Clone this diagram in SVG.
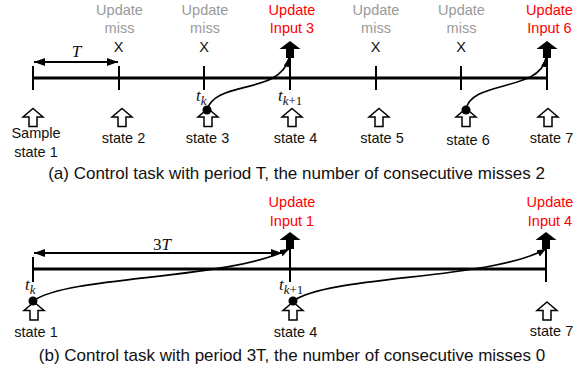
<svg xmlns="http://www.w3.org/2000/svg" width="587" height="372" viewBox="0 0 587 372">
  <style>
    .lbl { font-family: "Liberation Sans", Arial, sans-serif; font-size: 14.5px; fill: #111; text-anchor: middle; }
    .miss { fill: #9a9a9a; }
    .upd { fill: #ff0000; }
    .cap { font-family: "Liberation Sans", Arial, sans-serif; font-size: 17px; fill: #111; text-anchor: middle; }
    .math { font-family: "Liberation Serif", "Times New Roman", serif; font-style: italic; font-size: 17px; fill: #111; }
    .sub { font-size: 13px; }
    .up { font-style: normal; }
    .axis { stroke: #000; stroke-width: 3; fill: none; }
    .tick { stroke: #000; stroke-width: 2; fill: none; }
    .flow { stroke: #000; stroke-width: 1.6; fill: none; marker-end: url(#head); }
    .dim { stroke: #000; stroke-width: 2; fill: none; marker-start: url(#dimhead); marker-end: url(#dimhead); }
    .hollow { fill: #fff; stroke: #000; stroke-width: 1.5; stroke-linejoin: miter; }
    .solid { fill: #000; }
  </style>
  <defs>
    <!-- state sample arrow (outline) and control update arrow (filled), tip at origin -->
    <path id="sampleArrow" class="hollow" d="M0,0 L10,8.5 L4,8.5 L4,18 L-4,18 L-4,8.5 L-10,8.5 Z"/>
    <path id="updateArrow" class="solid" d="M0,0 L10.5,8 L4,8 L4,17 L-4,17 L-4,8 L-10.5,8 Z"/>
    <marker id="head" markerWidth="10" markerHeight="8" refX="9" refY="3.5" orient="auto" markerUnits="userSpaceOnUse">
      <path d="M0,0 L9,3.5 L0,7 Z" fill="#000"/>
    </marker>
    <marker id="dimhead" markerWidth="12" markerHeight="10" refX="11" refY="4" orient="auto-start-reverse" markerUnits="userSpaceOnUse">
      <path d="M0,0 L11,4 L0,8 Z" fill="#000"/>
    </marker>
  </defs>

  <!-- (a) period T timeline -->
  <g id="timeline-a">
    <line class="axis" x1="33" y1="78" x2="547" y2="78"/>
    <line class="tick" x1="33" y1="66" x2="33" y2="90"/>
    <line class="tick" x1="119" y1="66" x2="119" y2="90"/>
    <line class="tick" x1="204" y1="66" x2="204" y2="90"/>
    <line class="tick" x1="290" y1="57" x2="290" y2="90"/>
    <line class="tick" x1="376" y1="66" x2="376" y2="90"/>
    <line class="tick" x1="461" y1="66" x2="461" y2="90"/>
    <line class="tick" x1="547" y1="57" x2="547" y2="90"/>
    <line class="dim" x1="34" y1="62" x2="118" y2="62"/>
    <text class="math" x="76.5" y="57" text-anchor="middle">T</text>
  </g>

  <g id="miss-a2">
    <text class="lbl miss" x="119.5" y="15">Update</text>
    <text class="lbl miss" x="119.5" y="33">miss</text>
    <text class="lbl" x="118.5" y="52">X</text>
  </g>
  <g id="miss-a3">
    <text class="lbl miss" x="205" y="15">Update</text>
    <text class="lbl miss" x="205" y="33">miss</text>
    <text class="lbl" x="204" y="52">X</text>
  </g>
  <g id="update-a3">
    <text class="lbl upd" x="292" y="15">Update</text>
    <text class="lbl upd" x="292" y="33">Input 3</text>
    <use href="#updateArrow" x="290" y="41"/>
  </g>
  <g id="miss-a5">
    <text class="lbl miss" x="376" y="15">Update</text>
    <text class="lbl miss" x="376" y="33">miss</text>
    <text class="lbl" x="375.5" y="52">X</text>
  </g>
  <g id="miss-a6">
    <text class="lbl miss" x="461.5" y="15">Update</text>
    <text class="lbl miss" x="461.5" y="33">miss</text>
    <text class="lbl" x="461" y="52">X</text>
  </g>
  <g id="update-a6">
    <text class="lbl upd" x="549.5" y="15">Update</text>
    <text class="lbl upd" x="549.5" y="33">Input 6</text>
    <use href="#updateArrow" x="547" y="41"/>
  </g>

  <g id="state-a1">
    <use href="#sampleArrow" x="33" y="108.5"/>
    <text class="lbl" x="36" y="138">Sample</text>
    <text class="lbl" x="36" y="157">state 1</text>
  </g>
  <g id="state-a2">
    <use href="#sampleArrow" x="122" y="108.5"/>
    <text class="lbl" x="123.5" y="143">state 2</text>
  </g>
  <g id="state-a3">
    <use href="#sampleArrow" x="208" y="108.5"/>
    <text class="lbl" x="207.5" y="143">state 3</text>
    <text class="math" x="196" y="101">t<tspan class="sub" dy="4">k</tspan></text>
  </g>
  <g id="state-a4">
    <use href="#sampleArrow" x="292" y="108.5"/>
    <text class="lbl" x="295.5" y="143">state 4</text>
    <text class="math" x="278" y="101">t<tspan class="sub" dy="4">k</tspan><tspan class="sub up">+1</tspan></text>
  </g>
  <g id="state-a5">
    <use href="#sampleArrow" x="379" y="108.5"/>
    <text class="lbl" x="382" y="143">state 5</text>
  </g>
  <g id="state-a6">
    <use href="#sampleArrow" x="466" y="108.5"/>
    <text class="lbl" x="468" y="145">state 6</text>
  </g>
  <g id="state-a7">
    <use href="#sampleArrow" x="548" y="108.5"/>
    <text class="lbl" x="551.5" y="143">state 7</text>
  </g>

  <text id="caption-a" class="cap" x="296.5" y="179">(a) Control task with period T, the number of consecutive misses 2</text>

  <!-- (b) period 3T timeline -->
  <g id="timeline-b">
    <line class="axis" x1="33" y1="269" x2="547" y2="269"/>
    <line class="tick" x1="33" y1="257" x2="33" y2="282"/>
    <line class="tick" x1="290" y1="248" x2="290" y2="282"/>
    <line class="tick" x1="546" y1="248" x2="546" y2="282"/>
    <line class="dim" x1="34" y1="253" x2="282" y2="253"/>
    <text class="math" x="162" y="250" text-anchor="middle"><tspan class="up">3</tspan>T</text>
  </g>

  <g id="update-b1">
    <text class="lbl upd" x="292" y="207">Update</text>
    <text class="lbl upd" x="292" y="226">Input 1</text>
    <use href="#updateArrow" x="290" y="232"/>
  </g>
  <g id="update-b4">
    <text class="lbl upd" x="550" y="207">Update</text>
    <text class="lbl upd" x="550" y="226">Input 4</text>
    <use href="#updateArrow" x="546" y="232"/>
  </g>

  <g id="state-b1">
    <use href="#sampleArrow" x="34" y="302"/>
    <text class="lbl" x="36" y="337">state 1</text>
    <text class="math" x="25" y="290">t<tspan class="sub" dy="4">k</tspan></text>
  </g>
  <g id="state-b4">
    <use href="#sampleArrow" x="293" y="302"/>
    <text class="lbl" x="295.5" y="337">state 4</text>
    <text class="math" x="279" y="290">t<tspan class="sub" dy="4">k</tspan><tspan class="sub up">+1</tspan></text>
  </g>
  <g id="state-b7">
    <use href="#sampleArrow" x="547" y="302"/>
    <text class="lbl" x="551.5" y="336">state 7</text>
  </g>

  <text id="caption-b" class="cap" x="292" y="361">(b) Control task with period 3T, the number of consecutive misses 0</text>

  <!-- sample-to-update connectors -->
  <g id="connectors">
    <path class="flow" d="M207,110 C215,80 280,95 289,58"/>
    <path class="flow" d="M466,110 C470,80 540,92 546,58"/>
    <path class="flow" d="M33,301 C70,275 230,280 289,249"/>
    <path class="flow" d="M293,301 C330,275 490,280 546,249"/>
    <circle cx="207" cy="110" r="4.5" fill="#000"/>
    <circle cx="466" cy="110" r="4.5" fill="#000"/>
    <circle cx="33" cy="301" r="4.5" fill="#000"/>
    <circle cx="293" cy="301" r="4.5" fill="#000"/>
  </g>
</svg>
